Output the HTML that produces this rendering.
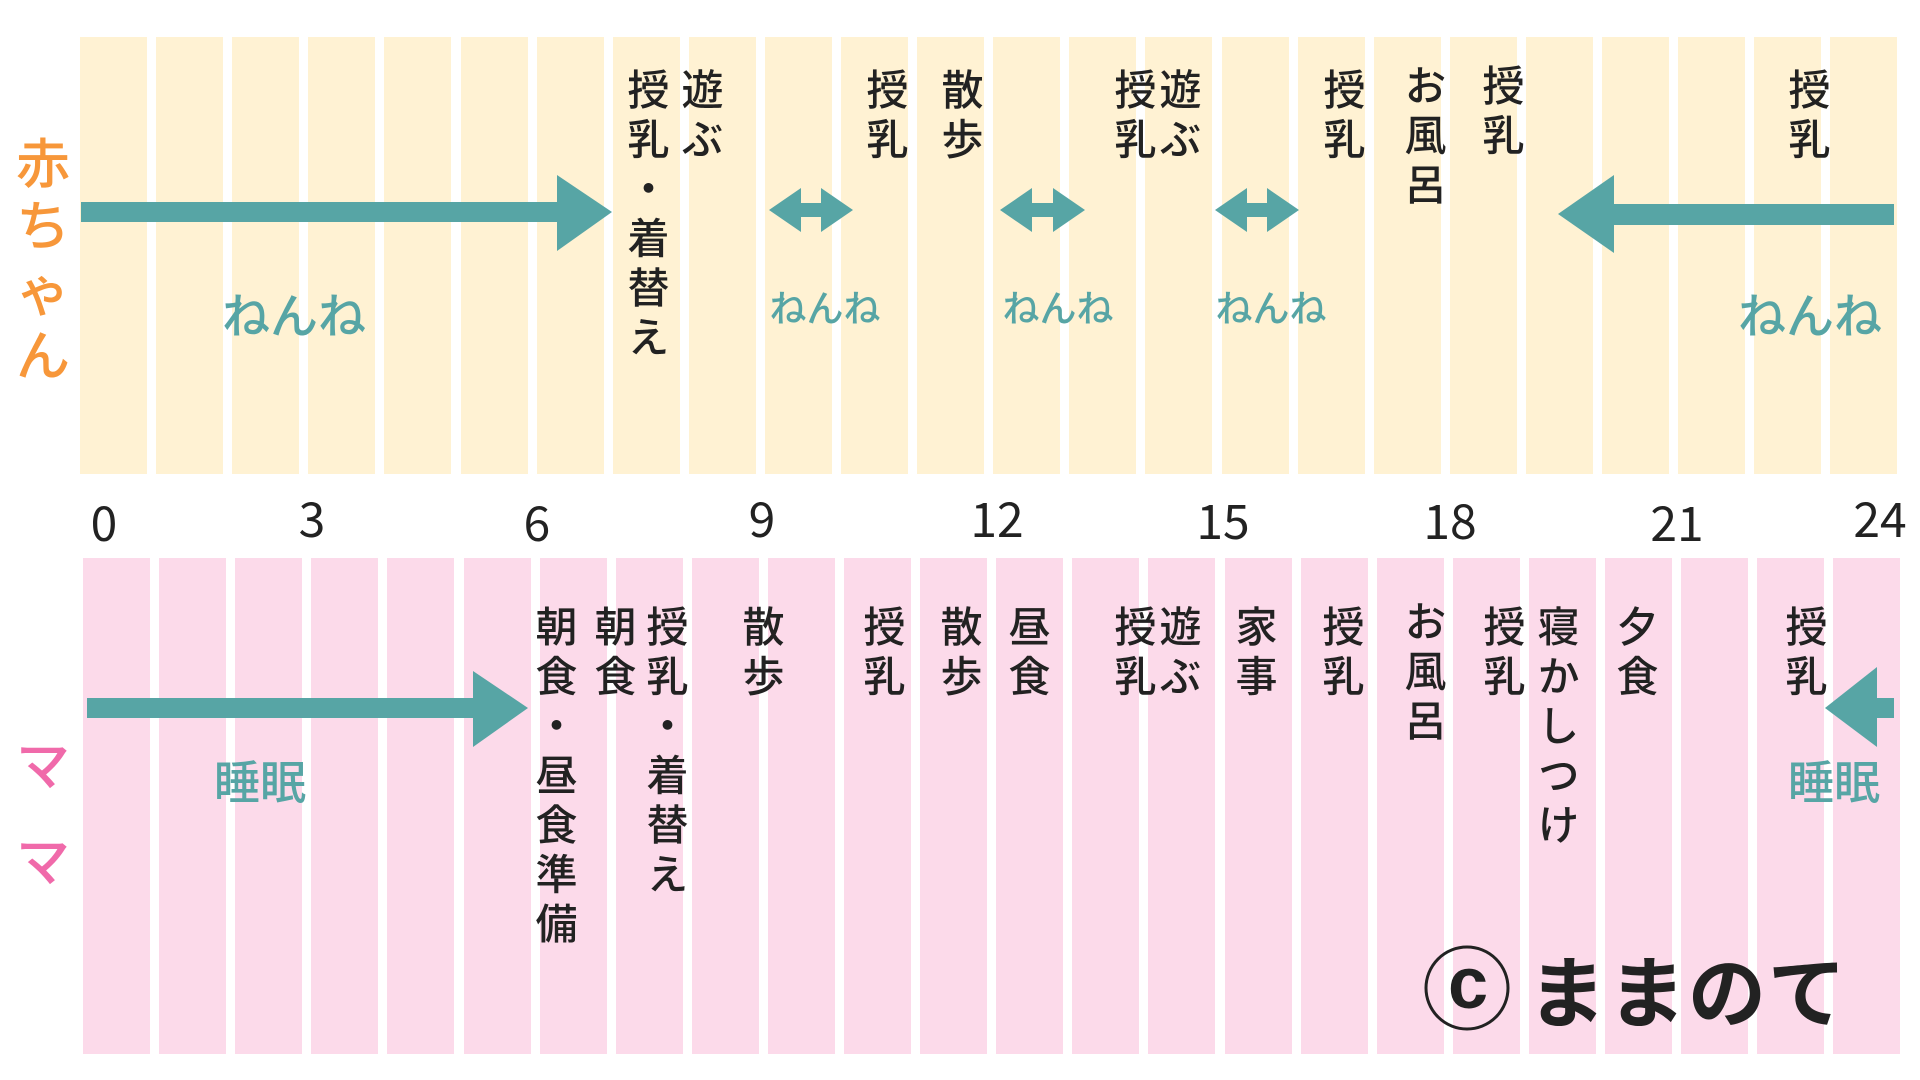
<!DOCTYPE html>
<html><head><meta charset="utf-8"><style>
html,body{margin:0;padding:0;background:#fff;width:1920px;height:1080px;overflow:hidden;position:relative;font-family:"Liberation Sans","Noto Sans CJK JP",sans-serif;}
.s{position:absolute;width:67px;}
.t{background:#fff2d3;top:37px;height:437px;}
.b{background:#fcdaea;top:558px;height:496px;}
.v{position:absolute;writing-mode:vertical-rl;font-family:"Noto Sans CJK JP",sans-serif;font-size:42px;line-height:44px;letter-spacing:7.5px;color:#222;font-weight:500;transform:translateX(-50%);white-space:nowrap;}
.n{position:absolute;font-family:"Noto Sans CJK JP",sans-serif;font-size:48px;color:#222;transform:translate(-50%,-50%);line-height:1;}
.g{position:absolute;font-family:"Noto Sans CJK JP",sans-serif;color:#57a5a5;font-weight:500;transform:translate(-50%,-50%);line-height:1;white-space:nowrap;}
.side{position:absolute;font-family:"Noto Sans CJK JP",sans-serif;font-size:54px;font-weight:500;line-height:1;transform:translate(-50%,-50%);}
</style></head><body>
<div id="stripes"></div>
<script>
var h='';for(var i=0;i<24;i++){h+='<div class="s t" style="left:'+(80+i*76.1).toFixed(1)+'px"></div>';h+='<div class="s b" style="left:'+(83+i*76.1).toFixed(1)+'px"></div>';}
document.getElementById('stripes').innerHTML=h;
</script>
<svg width="1920" height="1080" style="position:absolute;left:0;top:0">
<g fill="#57a5a5">
<rect x="81" y="202" width="480" height="20"/><polygon points="557,175 612,212 557,251"/>
<polygon points="769,210 801,188 801,203 821,203 821,188 853,210 821,232 821,217 801,217 801,232"/>
<polygon points="1000,210 1032,188 1032,203 1053,203 1053,188 1085,210 1053,232 1053,217 1032,217 1032,232"/>
<polygon points="1215,210 1247,188 1247,203 1267,203 1267,188 1299,210 1267,232 1267,217 1247,217 1247,232"/>
<rect x="1610" y="204" width="284" height="21"/><polygon points="1614,175 1558,214 1614,253"/>
<rect x="87" y="698" width="390" height="20"/><polygon points="473,671 528,708 473,747"/>
<rect x="1873" y="698" width="21" height="20"/><polygon points="1877,667 1825,708 1877,747"/>
</g>
<circle cx="1467" cy="988" r="41" fill="none" stroke="#222" stroke-width="3"/>
</svg>
<div class="side" style="left:43px;top:160px;color:#f7973a">赤</div>
<div class="side" style="left:43px;top:222px;color:#f7973a">ち</div>
<div class="side" style="left:43px;top:288px;color:#f7973a">ゃ</div>
<div class="side" style="left:43px;top:352px;color:#f7973a">ん</div>
<div class="side" style="left:43px;top:762px;color:#f06aaa">マ</div>
<div class="side" style="left:43px;top:858px;color:#f06aaa">マ</div>

<div class="n" style="left:104px;top:520px">0</div>
<div class="n" style="left:312px;top:516px">3</div>
<div class="n" style="left:537px;top:520px">6</div>
<div class="n" style="left:762px;top:516px">9</div>
<div class="n" style="left:997px;top:516px">12</div>
<div class="n" style="left:1223px;top:518px">15</div>
<div class="n" style="left:1450px;top:518px">18</div>
<div class="n" style="left:1677px;top:520px">21</div>
<div class="n" style="left:1880px;top:516px">24</div>

<div class="g" style="left:294px;top:312px;font-size:48px">ねんね</div>
<div class="g" style="left:825px;top:306px;font-size:37px">ねんね</div>
<div class="g" style="left:1058px;top:306px;font-size:37px">ねんね</div>
<div class="g" style="left:1271px;top:306px;font-size:37px">ねんね</div>
<div class="g" style="left:1810px;top:312px;font-size:48px">ねんね</div>
<div class="g" style="left:260px;top:780px;font-size:46px">睡眠</div>
<div class="g" style="left:1834px;top:780px;font-size:46px">睡眠</div>

<div class="v" style="left:648px;top:68px">授乳・着替え</div>
<div class="v" style="left:702px;top:68px">遊ぶ</div>
<div class="v" style="left:887px;top:68px">授乳</div>
<div class="v" style="left:962px;top:68px">散歩</div>
<div class="v" style="left:1135px;top:68px">授乳</div>
<div class="v" style="left:1180px;top:68px">遊ぶ</div>
<div class="v" style="left:1344px;top:68px">授乳</div>
<div class="v" style="left:1425px;top:64px">お風呂</div>
<div class="v" style="left:1503px;top:64px">授乳</div>
<div class="v" style="left:1809px;top:68px">授乳</div>

<div class="v" style="left:556px;top:605px">朝食・昼食準備</div>
<div class="v" style="left:615px;top:605px">朝食</div>
<div class="v" style="left:667px;top:605px">授乳・着替え</div>
<div class="v" style="left:763px;top:605px">散歩</div>
<div class="v" style="left:884px;top:605px">授乳</div>
<div class="v" style="left:961px;top:605px">散歩</div>
<div class="v" style="left:1029px;top:605px">昼食</div>
<div class="v" style="left:1135px;top:605px">授乳</div>
<div class="v" style="left:1180px;top:605px">遊ぶ</div>
<div class="v" style="left:1256px;top:605px">家事</div>
<div class="v" style="left:1343px;top:605px">授乳</div>
<div class="v" style="left:1425px;top:600px">お風呂</div>
<div class="v" style="left:1504px;top:605px">授乳</div>
<div class="v" style="left:1558px;top:605px">寝かしつけ</div>
<div class="v" style="left:1637px;top:605px">夕食</div>
<div class="v" style="left:1806px;top:605px">授乳</div>

<div style="position:absolute;left:1468px;top:984px;transform:translate(-50%,-50%);font-family:'Liberation Sans',sans-serif;font-size:72px;font-weight:bold;color:#222;line-height:1">c</div>
<div style="position:absolute;left:1528px;top:988px;transform:translateY(-50%);font-family:'Noto Sans CJK JP',sans-serif;font-size:78px;font-weight:700;color:#222;line-height:1;letter-spacing:2px;white-space:nowrap">ままのて</div>
</body></html>
